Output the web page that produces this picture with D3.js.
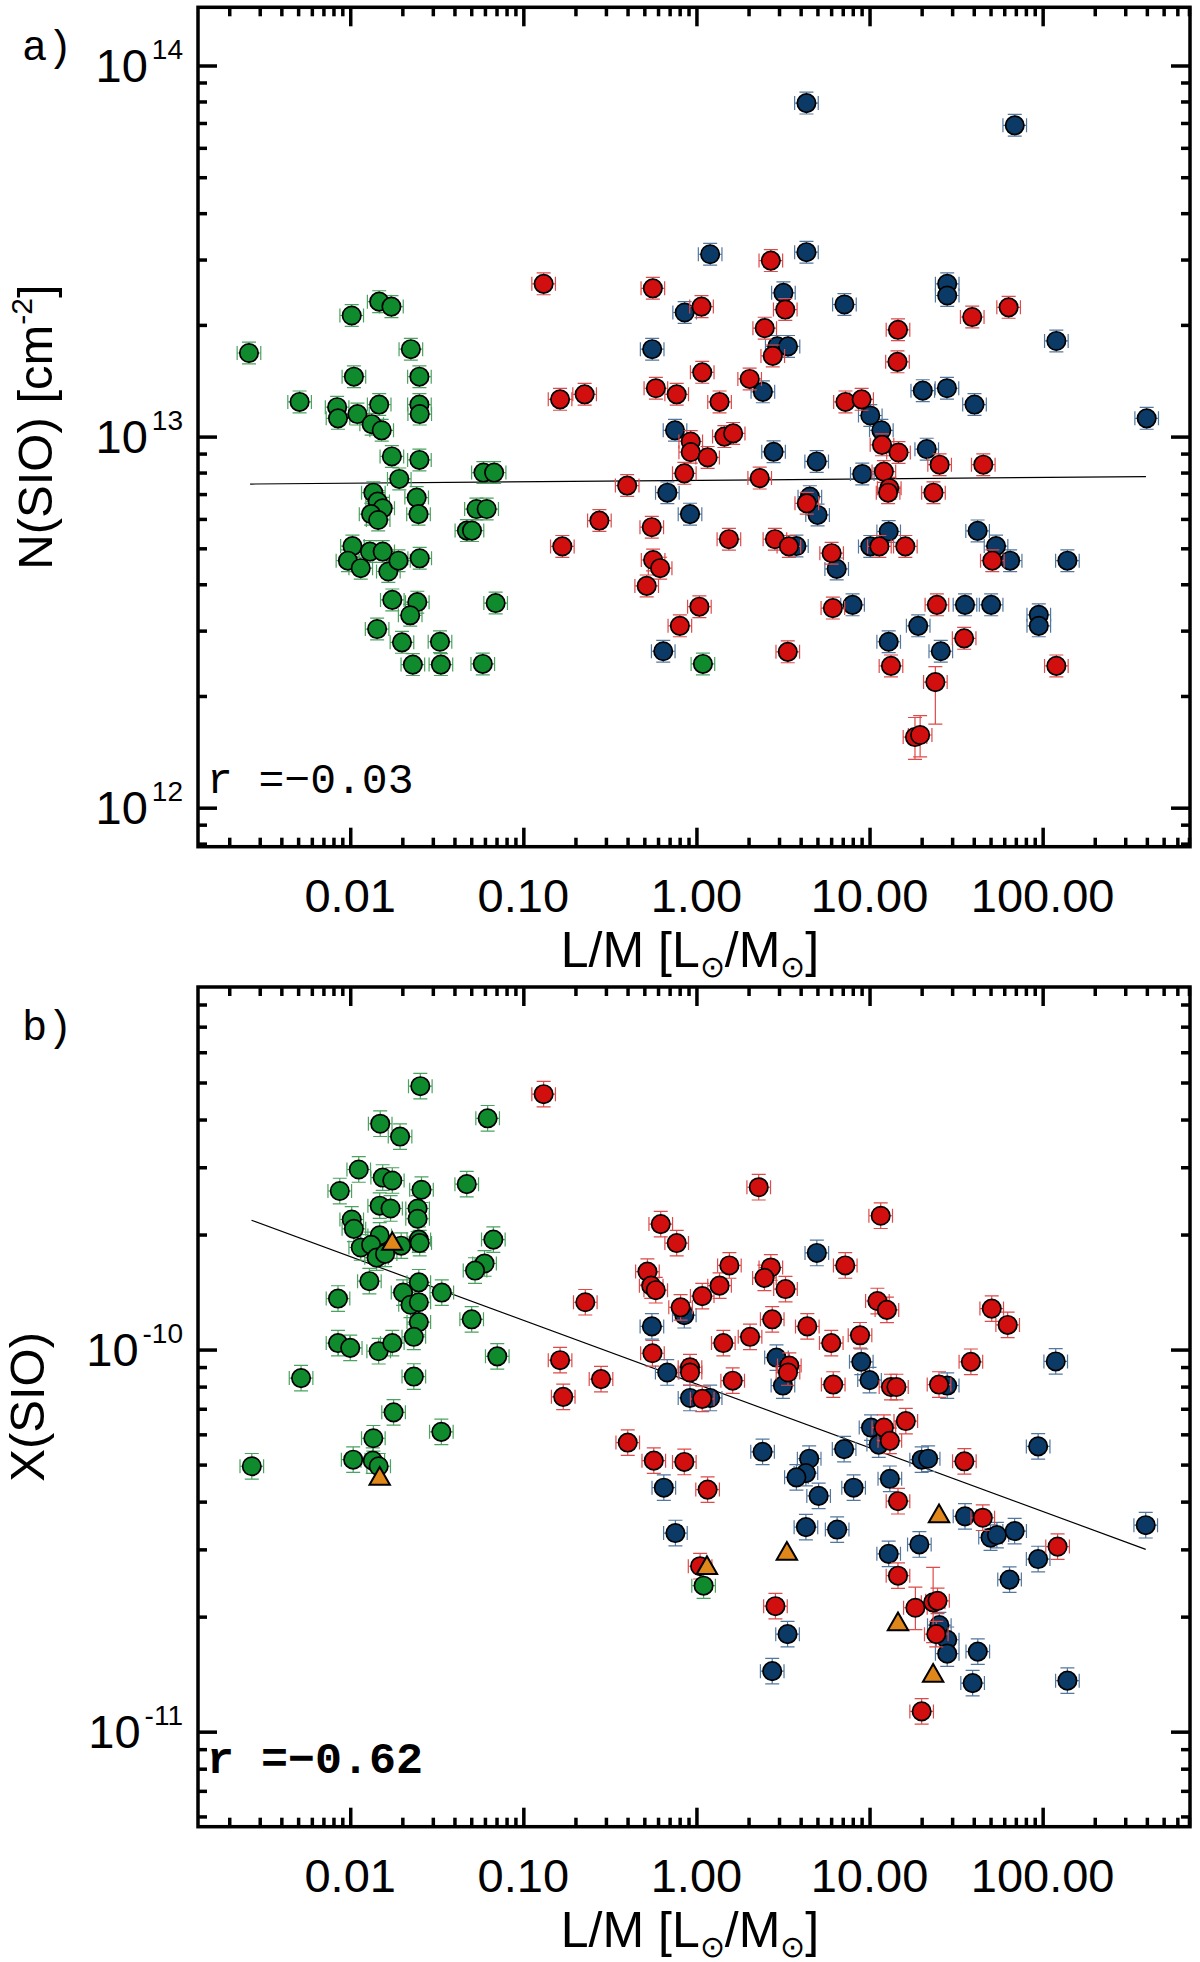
<!DOCTYPE html>
<html>
<head>
<meta charset="utf-8">
<script src="https://cdn.jsdelivr.net/npm/d3@7"></script>
<style>
    html, body { margin: 0; padding: 0; background: #fff; }
    svg { display: block; }
    text { font-family: "Liberation Sans", Arial, sans-serif; fill: #000; }
    .mono { font-family: "Liberation Mono", "Courier New", monospace; }
</style>
</head>
<body>
<div id="chart"></div>
<script>
"use strict";

// shared L/M axis
const lmTicks = [0.01, 0.1, 1, 10, 100];
const lmTickLabels = ["0.01", "0.10", "1.00", "10.00", "100.00"];
const lmRelErr = 0.17;

// a) N(SiO) column density: [L/M, N] or [L/M, N, Nlow, Nhigh]
const nTicks = [1e12, 1e13, 1e14];
const nTickExps = ["12", "13", "14"];
const nRelErr = 0.07;

const nGreen = [
    [0.0147, 2.31e13], [0.0173, 2.24e13], [0.0102, 2.12e13], [0.0026, 1.68e13], [0.0224, 1.72e13],
    [0.0105, 1.45e13], [0.0251, 1.45e13], [0.0051, 1.24e13], [0.0084, 1.20e13], [0.0085, 1.12e13],
    [0.0110, 1.15e13], [0.0147, 1.22e13], [0.0133, 1.08e13], [0.0152, 1.04e13], [0.0251, 1.22e13],
    [0.0252, 1.15e13], [0.0174, 8.84e12], [0.0251, 8.65e12], [0.0588, 8.0e12], [0.0678, 8.0e12],
    [0.0192, 7.69e12], [0.0136, 7.06e12], [0.0144, 6.68e12], [0.0242, 6.85e12], [0.0154, 6.41e12],
    [0.0132, 6.18e12], [0.0145, 5.96e12], [0.0248, 6.18e12], [0.0536, 6.38e12], [0.0614, 6.38e12],
    [0.0472, 5.58e12], [0.0505, 5.58e12], [0.0103, 5.07e12], [0.0130, 4.90e12], [0.0154, 4.90e12],
    [0.0097, 4.63e12], [0.0115, 4.42e12], [0.0166, 4.33e12], [0.0190, 4.63e12], [0.0252, 4.70e12],
    [0.0175, 3.63e12], [0.0244, 3.58e12], [0.0222, 3.30e12], [0.0692, 3.56e12], [0.0143, 3.03e12],
    [0.0199, 2.79e12], [0.0330, 2.80e12], [0.0230, 2.43e12], [0.0334, 2.43e12], [0.0583, 2.44e12],
    [1.09, 2.44e12]
];

const nRed = [
    [0.131, 2.58e13], [0.163, 1.26e13], [0.226, 1.30e13], [2.69, 2.98e13], [0.560, 2.51e13],
    [1.07, 2.24e13], [3.26, 2.20e13], [39.2, 2.10e13], [63.6, 2.23e13], [2.48, 1.96e13],
    [14.6, 1.94e13], [2.76, 1.65e13], [14.5, 1.59e13], [1.08, 1.49e13], [2.03, 1.43e13],
    [0.583, 1.35e13], [0.769, 1.30e13], [1.36, 1.24e13], [7.26, 1.24e13], [9.0, 1.26e13],
    [0.927, 9.7e12], [0.927, 9.08e12], [1.16, 8.79e12], [1.45, 1.0e13], [1.63, 1.02e13],
    [11.8, 9.5e12], [14.7, 9.06e12], [25.4, 8.4e12], [45.4, 8.4e12], [0.851, 7.96e12],
    [12.1, 8.05e12], [2.32, 7.73e12], [0.398, 7.38e12], [13.0, 7.26e12], [12.8, 7.06e12],
    [23.4, 7.06e12], [4.34, 6.61e12], [0.275, 5.94e12], [0.552, 5.70e12], [0.168, 5.06e12],
    [1.54, 5.29e12], [2.84, 5.29e12], [3.42, 5.06e12], [0.562, 4.65e12], [0.617, 4.42e12],
    [0.516, 3.96e12], [6.04, 4.85e12], [11.4, 5.06e12], [16.1, 5.06e12], [51.2, 4.63e12],
    [1.04, 3.48e12], [0.802, 3.09e12], [6.14, 3.45e12], [24.5, 3.52e12], [35.2, 2.86e12],
    [3.37, 2.63e12], [13.3, 2.41e12], [120, 2.41e12], [24.0, 2.18e12, 1.68e12, 2.40e12],
    [18.3, 1.55e12, 1.35e12, 1.75e12], [19.6, 1.57e12, 1.37e12, 1.77e12]
];

const nBlue = [
    [4.32, 7.92e13], [69.0, 6.9e13], [1.20, 3.10e13], [4.32, 3.14e13], [3.18, 2.44e13],
    [0.855, 2.16e13], [7.16, 2.27e13], [28.1, 2.58e13], [28.1, 2.40e13], [0.555, 1.72e13],
    [2.93, 1.75e13], [3.38, 1.75e13], [120, 1.81e13], [2.42, 1.32e13], [20.3, 1.33e13],
    [28.0, 1.35e13], [40.4, 1.22e13], [399, 1.12e13], [10.1, 1.14e13], [0.752, 1.04e13],
    [11.7, 1.04e13], [2.79, 9.1e12], [21.4, 9.25e12], [4.95, 8.57e12], [9.08, 7.93e12],
    [0.679, 7.06e12], [4.52, 6.89e12], [0.918, 6.18e12], [5.01, 6.15e12], [12.9, 5.55e12],
    [42.1, 5.57e12], [53.8, 5.07e12], [3.78, 5.07e12], [10.1, 5.06e12], [6.46, 4.40e12],
    [64.9, 4.63e12], [139, 4.63e12], [7.98, 3.52e12], [35.6, 3.52e12], [50.4, 3.52e12],
    [95, 3.31e12], [95, 3.09e12], [19.1, 3.09e12], [12.9, 2.80e12], [25.8, 2.64e12],
    [0.643, 2.64e12]
];

const nFit = [[0.00264, 7.45e12], [395, 7.8e12]];
const nCorr = "r =\u22120.03";

// b) X(SiO) abundance: [L/M, X] or [L/M, X, Xlow, Xhigh]
const abTicks = [1e-11, 1e-10];
const abTickExps = ["-11", "-10"];
const abRelErr = 0.08;

const abGreen = [
    [0.0254, 4.89e-10], [0.0622, 4.03e-10], [0.0149, 3.90e-10], [0.0194, 3.61e-10], [0.0112, 2.96e-10],
    [0.0154, 2.82e-10], [0.0175, 2.77e-10], [0.0087, 2.60e-10], [0.0258, 2.62e-10], [0.0471, 2.71e-10],
    [0.0148, 2.38e-10], [0.0171, 2.34e-10], [0.0245, 2.34e-10], [0.0245, 2.20e-10], [0.0102, 2.19e-10],
    [0.0105, 2.07e-10], [0.0148, 1.99e-10], [0.0249, 1.94e-10], [0.0252, 1.90e-10], [0.0671, 1.94e-10],
    [0.0115, 1.85e-10], [0.0132, 1.88e-10], [0.0197, 1.87e-10], [0.0142, 1.74e-10], [0.0159, 1.78e-10],
    [0.0597, 1.68e-10], [0.0526, 1.61e-10], [0.0129, 1.51e-10], [0.0249, 1.50e-10], [0.0338, 1.41e-10],
    [0.0085, 1.36e-10], [0.0202, 1.41e-10], [0.0223, 1.31e-10], [0.0249, 1.33e-10], [0.0249, 1.18e-10],
    [0.0503, 1.20e-10], [0.0233, 1.08e-10], [0.0085, 1.04e-10], [0.0100, 1.01e-10], [0.0146, 9.9e-11],
    [0.0175, 1.04e-10], [0.0707, 9.6e-11], [0.0052, 8.42e-11], [0.0233, 8.5e-11], [0.0178, 6.85e-11],
    [0.0336, 6.09e-11], [0.0136, 5.86e-11], [0.0027, 4.95e-11], [0.0104, 5.15e-11], [0.0135, 5.12e-11],
    [0.0146, 4.95e-11], [1.10, 2.41e-11]
];

const abRed = [
    [0.131, 4.66e-10], [2.29, 2.66e-10], [11.6, 2.24e-10], [0.622, 2.13e-10], [0.769, 1.90e-10],
    [7.24, 1.66e-10], [1.55, 1.66e-10], [2.69, 1.64e-10], [2.47, 1.54e-10], [0.521, 1.60e-10],
    [0.548, 1.47e-10], [0.582, 1.43e-10], [3.27, 1.44e-10], [1.36, 1.47e-10], [1.08, 1.38e-10],
    [0.228, 1.33e-10], [11.1, 1.34e-10], [12.6, 1.27e-10], [0.81, 1.29e-10], [50.8, 1.28e-10],
    [62.8, 1.16e-10], [2.74, 1.20e-10], [4.37, 1.15e-10], [8.81, 1.09e-10], [2.04, 1.08e-10],
    [1.43, 1.04e-10], [6.01, 1.04e-10], [0.557, 9.78e-11], [0.163, 9.38e-11], [38.5, 9.29e-11],
    [0.918, 8.99e-11], [0.918, 8.71e-11], [3.44, 9.08e-11], [3.38, 8.71e-11], [0.281, 8.37e-11],
    [1.62, 8.29e-11], [6.17, 8.1e-11], [13.3, 7.98e-11], [14.3, 7.98e-11], [25.2, 8.1e-11],
    [0.170, 7.52e-11], [1.08, 7.43e-11], [16.2, 6.5e-11], [12.1, 6.25e-11], [13.1, 5.77e-11],
    [0.401, 5.71e-11], [0.567, 5.12e-11], [0.851, 5.08e-11], [35.3, 5.1e-11], [1.16, 4.3e-11],
    [14.6, 4.01e-11], [45.1, 3.63e-11], [122, 3.05e-11], [1.05, 2.71e-11], [14.6, 2.56e-11],
    [2.86, 2.13e-11], [18.4, 2.11e-11, 1.85e-11, 2.39e-11], [23.3, 2.18e-11, 1.71e-11, 2.69e-11],
    [24.7, 2.2e-11], [24.3, 1.80e-11], [20.0, 1.13e-11]
];

const abBlue = [
    [4.96, 1.79e-10], [0.553, 1.15e-10], [0.851, 1.23e-10], [2.90, 9.53e-11], [8.96, 9.29e-11],
    [119, 9.31e-11], [0.678, 8.71e-11], [10.0, 8.32e-11], [3.16, 8.05e-11], [28.1, 8.05e-11],
    [0.918, 7.47e-11], [1.20, 7.47e-11], [10.2, 6.25e-11], [11.3, 5.64e-11], [94.2, 5.58e-11],
    [2.41, 5.4e-11], [7.13, 5.49e-11], [20.0, 5.15e-11], [21.8, 5.18e-11], [4.48, 5.18e-11],
    [4.29, 4.75e-11], [3.78, 4.63e-11], [13.1, 4.59e-11], [0.648, 4.35e-11], [5.08, 4.14e-11],
    [8.09, 4.35e-11], [35.6, 3.66e-11], [4.29, 3.43e-11], [6.5, 3.38e-11], [394, 3.47e-11],
    [0.756, 3.31e-11], [50.0, 3.22e-11], [54.4, 3.27e-11], [68.9, 3.35e-11], [19.4, 3.09e-11],
    [12.9, 2.92e-11], [94.2, 2.83e-11], [64.4, 2.5e-11], [3.36, 1.80e-11], [25.3, 1.90e-11],
    [28.1, 1.74e-11], [28.1, 1.60e-11], [42.2, 1.62e-11], [2.74, 1.44e-11], [39.4, 1.34e-11],
    [139, 1.36e-11]
];

const abOrange = [
    [0.0175, 1.89e-10], [0.0148, 4.59e-11], [1.15, 2.68e-11], [3.33, 2.92e-11],
    [25.2, 3.66e-11], [14.6, 1.91e-11], [23.3, 1.40e-11]
];

const abFit = [[0.00269, 2.18e-10], [394, 3.0e-11]];
const abCorr = "r =\u22120.62";

/**
 * One log-log panel with L/M on the x axis.
 */
class LmPanel {

    /**
     * @param svg {*}
     * @param opts {{top: number, bottom: number, yDomain: number[], yTicks: number[], yExps: string[],
     *               tag: string, corr: string, corrBold: boolean}}
     */
    constructor(svg, opts) {
        this.opts = opts;
        this.x = d3.scaleLog().domain([0.00132, 710]).range([198, 1190]);
        this.y = d3.scaleLog().domain(opts.yDomain).range([opts.bottom, opts.top]);
        this.g = svg.append("g");
    }

    drawAxes() {
        const g = this.g, x = this.x, y = this.y, o = this.opts;
        const isMajor = (list, v) => list.some(m => Math.abs(v / m - 1) < 1e-6);
        const xMinor = x.ticks().filter(v => !isMajor(lmTicks, v));
        const yMinor = y.ticks().filter(v => !isMajor(o.yTicks, v));

        const ticks = (axis, scale, values, size, transform) => {
            g.append("g").attr("transform", transform)
                .call(axis(scale).tickValues(values).tickSize(-size).tickFormat(""))
                .call(a => a.select(".domain").remove())
                .selectAll("line").attr("stroke", "#000").attr("stroke-width", 3.5);
        };
        [[lmTicks, 19], [xMinor, 9]].forEach(([vals, len]) => {
            ticks(d3.axisBottom, x, vals, len, `translate(0,${o.bottom})`);
            ticks(d3.axisTop, x, vals, len, `translate(0,${o.top})`);
        });
        [[o.yTicks, 19], [yMinor, 9]].forEach(([vals, len]) => {
            ticks(d3.axisLeft, y, vals, len, "translate(198,0)");
            ticks(d3.axisRight, y, vals, len, "translate(1190,0)");
        });

        g.append("rect")
            .attr("x", 198).attr("y", o.top)
            .attr("width", 992).attr("height", o.bottom - o.top)
            .attr("fill", "none").attr("stroke", "#000").attr("stroke-width", 3.5);

        g.selectAll(".xlab").data(lmTicks).join("text").attr("class", "xlab")
            .attr("x", d => x(d)).attr("y", o.bottom + 65)
            .attr("text-anchor", "middle").style("font-size", "47px")
            .text((d, i) => lmTickLabels[i]);

        const yl = g.selectAll(".ylab").data(o.yTicks).join("text").attr("class", "ylab")
            .attr("x", 183).attr("y", d => y(d) + 16)
            .attr("text-anchor", "end");
        yl.append("tspan").style("font-size", "47px").text("10");
        yl.append("tspan").style("font-size", "28px").attr("dx", 4).attr("dy", -23)
            .text((d, i) => o.yExps[i]);

        // x title with sun subscripts
        const xt = g.append("text").attr("x", 690).attr("y", o.bottom + 120)
            .attr("text-anchor", "middle").style("font-size", "50px");
        xt.append("tspan").text("L/M [L");
        xt.append("tspan").style("font-size", "30px").attr("dy", 10).text("\u2299");
        xt.append("tspan").attr("dy", -10).text("/M");
        xt.append("tspan").style("font-size", "30px").attr("dy", 10).text("\u2299");
        xt.append("tspan").attr("dy", -10).text("]");

        g.append("text").attr("class", "mono")
            .attr("x", 22).attr("y", o.top + 53)
            .style("font-size", "42px").text(o.tag);

        g.append("text").attr("class", "mono")
            .attr("x", 207).attr("y", o.bottom - 54)
            .style("font-size", o.corrBold ? "45px" : "43px")
            .style("font-weight", o.corrBold ? "bold" : "normal")
            .text(o.corr);
    }

    /**
     * @param parts {Array<{text: string, sup: boolean, after: boolean}>}
     * @param xPos {number}
     */
    drawYTitle(parts, xPos) {
        const o = this.opts;
        const t = this.g.append("text")
            .attr("transform", `translate(${xPos},${(o.top + o.bottom) / 2}) rotate(-90)`)
            .attr("text-anchor", "middle").style("font-size", "49px");
        parts.forEach(p => {
            t.append("tspan")
                .style("font-size", p.sup ? "30px" : "49px")
                .attr("dy", p.sup ? -20 : (p.after ? 20 : 0))
                .text(p.text);
        });
    }

    drawFit(fit) {
        const line = d3.line().x(d => this.x(d[0])).y(d => this.y(d[1]));
        this.g.append("path").attr("d", line(fit))
            .attr("fill", "none").attr("stroke", "#000").attr("stroke-width", 1.2);
    }

    errPath(p, relY) {
        const x = this.x, y = this.y, c = 7;
        const cx = x(p[0]), cy = y(p[1]);
        const x0 = x(p[0] / (1 + lmRelErr)), x1 = x(p[0] * (1 + lmRelErr));
        const y0 = y(p.length > 2 ? p[2] : p[1] / (1 + relY));
        const y1 = y(p.length > 2 ? p[3] : p[1] * (1 + relY));
        return `M${x0},${cy}H${x1}M${x0},${cy - c}V${cy + c}M${x1},${cy - c}V${cy + c}` +
            `M${cx},${y0}V${y1}M${cx - c},${y0}H${cx + c}M${cx - c},${y1}H${cx + c}`;
    }

    drawGroup(points, fill, errColor, relY) {
        const grp = this.g.append("g");
        grp.selectAll("path").data(points).join("path")
            .attr("d", d => this.errPath(d, relY))
            .attr("fill", "none").attr("stroke", errColor).attr("stroke-width", 1.2);
        grp.selectAll("circle").data(points).join("circle")
            .attr("cx", d => this.x(d[0])).attr("cy", d => this.y(d[1]))
            .attr("r", 9.2)
            .attr("fill", fill).attr("stroke", "#000").attr("stroke-width", 1.7);
    }

    drawTriangles(points, fill) {
        const sym = d3.symbol(d3.symbolTriangle, 180);
        this.g.append("g").selectAll("path").data(points).join("path")
            .attr("d", sym)
            .attr("transform", d => `translate(${this.x(d[0])},${this.y(d[1])})`)
            .attr("fill", fill).attr("stroke", "#000").attr("stroke-width", 2);
    }
}

const svg = d3.select("#chart").append("svg")
    .attr("width", 1200).attr("height", 1962)
    .attr("viewBox", "0 0 1200 1962");
svg.append("rect").attr("width", 1200).attr("height", 1962).attr("fill", "#fff");

const GREEN = "#0f8a2c", RED = "#d20f0f", BLUE = "#0b3a66", ORANGE = "#e0871c";
const GREEN_ERR = "#4aa35e", RED_ERR = "#e04a4a", BLUE_ERR = "#5378a0";

const panelA = new LmPanel(svg, {
    top: 7.3, bottom: 846.7, yDomain: [7.85e11, 1.435e14],
    yTicks: nTicks, yExps: nTickExps, tag: "a)", corr: nCorr, corrBold: false
});
panelA.drawAxes();
panelA.drawYTitle([{text: "N(SIO) [cm"}, {text: "-2", sup: true}, {text: "]", after: true}], 52);
panelA.drawFit(nFit);
panelA.drawGroup(nGreen, GREEN, GREEN_ERR, nRelErr);
panelA.drawGroup(nBlue, BLUE, BLUE_ERR, nRelErr);
panelA.drawGroup(nRed, RED, RED_ERR, nRelErr);

const panelB = new LmPanel(svg, {
    top: 987, bottom: 1826.7, yDomain: [5.64e-12, 8.89e-10],
    yTicks: abTicks, yExps: abTickExps, tag: "b)", corr: abCorr, corrBold: true
});
panelB.drawAxes();
panelB.drawYTitle([{text: "X(SIO)"}], 44);
panelB.drawFit(abFit);
panelB.drawGroup(abBlue, BLUE, BLUE_ERR, abRelErr);
panelB.drawGroup(abRed, RED, RED_ERR, abRelErr);
panelB.drawGroup(abGreen, GREEN, GREEN_ERR, abRelErr);
panelB.drawTriangles(abOrange, ORANGE);
</script>
</body>
</html>
